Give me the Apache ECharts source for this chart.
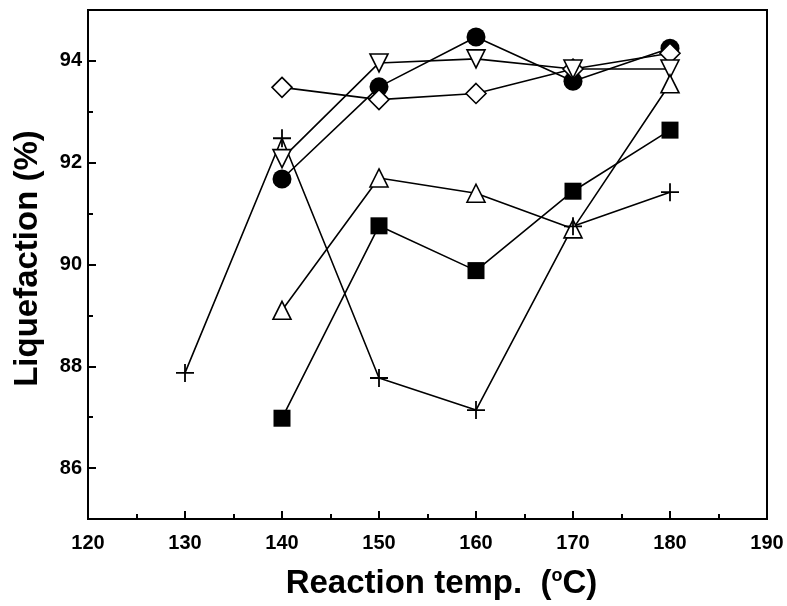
<!DOCTYPE html>
<html>
<head>
<meta charset="utf-8">
<script src="https://cdn.jsdelivr.net/npm/echarts@6/dist/echarts.min.js"></script>
<style>
  html, body { margin: 0; padding: 0; background: #fff; }
  #chart { width: 787px; height: 606px; }
</style>
</head>
<body>
<div id="chart"></div>
<script>
// reaction temperatures (°C)
var temps = [140, 150, 160, 170, 180];
var plusTemps = [130, 140, 150, 160, 170, 180];

// liquefaction (%) per marker series
var circleVals = [91.68, 93.49, 94.47, 93.6, 94.25];
var downTriVals = [92.08, 93.96, 94.04, 93.84, 93.84];
var diamondVals = [93.48, 93.24, 93.36, 93.84, 94.15];
var upTriVals = [89.1, 91.7, 91.4, 90.7, 93.55];
var squareVals = [86.98, 90.76, 89.88, 91.44, 92.64];
var plusVals = [87.87, 92.48, 87.77, 87.14, 90.75, 91.42];

// tick positions
var yMajorTicks = [86, 88, 90, 92, 94];
var yMinorTicks = [85, 87, 89, 91, 93, 95];

var font = "'Liberation Sans', Arial, sans-serif";

function pairs(xs, ys) {
    return xs.map(function (x, i) { return [x, ys[i]]; });
}

function makeSeries(name, xs, ys, symbol, size, filled, rotate) {
    return {
        name: name,
        type: 'line',
        data: pairs(xs, ys),
        symbol: symbol,
        symbolSize: size,
        symbolRotate: rotate || 0,
        showAllSymbol: true,
        lineStyle: { color: '#000', width: 1.6 },
        itemStyle: {
            color: filled ? '#000' : '#fff',
            borderColor: '#000',
            borderWidth: filled ? 0 : 1.6
        },
        emphasis: { disabled: true },
        animation: false
    };
}

var plusPath = 'path://M-1,-10 H1 V-1 H10 V1 H1 V10 H-1 V1 H-10 V-1 H-1 Z';

var myChart = echarts.init(document.getElementById('chart'));
var option = {
    backgroundColor: '#fff',
    grid: {
        left: 88, right: 20, top: 10, bottom: 87,
        show: true,
        borderColor: '#000',
        borderWidth: 2,
        backgroundColor: 'transparent'
    },
    xAxis: {
        type: 'value',
        min: 120, max: 190, interval: 10,
        name: 'Reaction temp.  ({sup|o}C)',
        nameLocation: 'middle',
        nameGap: 48,
        nameTextStyle: {
            fontFamily: font, fontWeight: 'bold', fontSize: 33, color: '#000',
            padding: [0, 0, 0, 28],
            rich: {
                sup: { fontFamily: font, fontWeight: 'bold', fontSize: 18, color: '#000', verticalAlign: 'top', padding: [0, 0, 14, 0] }
            }
        },
        axisLine: { lineStyle: { color: '#000', width: 2 } },
        axisTick: { inside: true, length: 8, lineStyle: { color: '#000', width: 2 } },
        minorTick: { show: true, splitNumber: 2, length: 5, lineStyle: { color: '#000', width: 2 } },
        splitLine: { show: false },
        axisLabel: { fontFamily: font, fontWeight: 'bold', fontSize: 20, color: '#000', margin: 14 }
    },
    yAxis: [{
        type: 'value',
        min: 85, max: 95,
        name: 'Liquefaction (%)',
        nameLocation: 'middle',
        nameGap: 44,
        nameRotate: 90,
        nameTextStyle: { fontFamily: font, fontWeight: 'bold', fontSize: 33, color: '#000', padding: [0, 0, 0, 12] },
        axisLine: { lineStyle: { color: '#000', width: 2 } },
        axisTick: { inside: true, length: 8, customValues: yMajorTicks, lineStyle: { color: '#000', width: 2 } },
        splitLine: { show: false },
        axisLabel: { customValues: yMajorTicks, fontFamily: font, fontWeight: 'bold', fontSize: 20, color: '#000', margin: 6 }
    }, {
        type: 'value',
        position: 'left',
        min: 85, max: 95,
        axisLine: { show: false },
        axisTick: { inside: true, length: 5, customValues: yMinorTicks, lineStyle: { color: '#000', width: 2 } },
        splitLine: { show: false },
        axisLabel: { show: false }
    }],
    series: [
        makeSeries('circle', temps, circleVals, 'circle', 19, true),
        makeSeries('square', temps, squareVals, 'rect', 17, true),
        makeSeries('diamond', temps, diamondVals, 'diamond', 20, false),
        makeSeries('down triangle', temps, downTriVals, 'triangle', 18, false, 180),
        makeSeries('up triangle', temps, upTriVals, 'triangle', 18, false),
        makeSeries('plus', plusTemps, plusVals, plusPath, 18, true)
    ]
};
myChart.setOption(option);
</script>
</body>
</html>
